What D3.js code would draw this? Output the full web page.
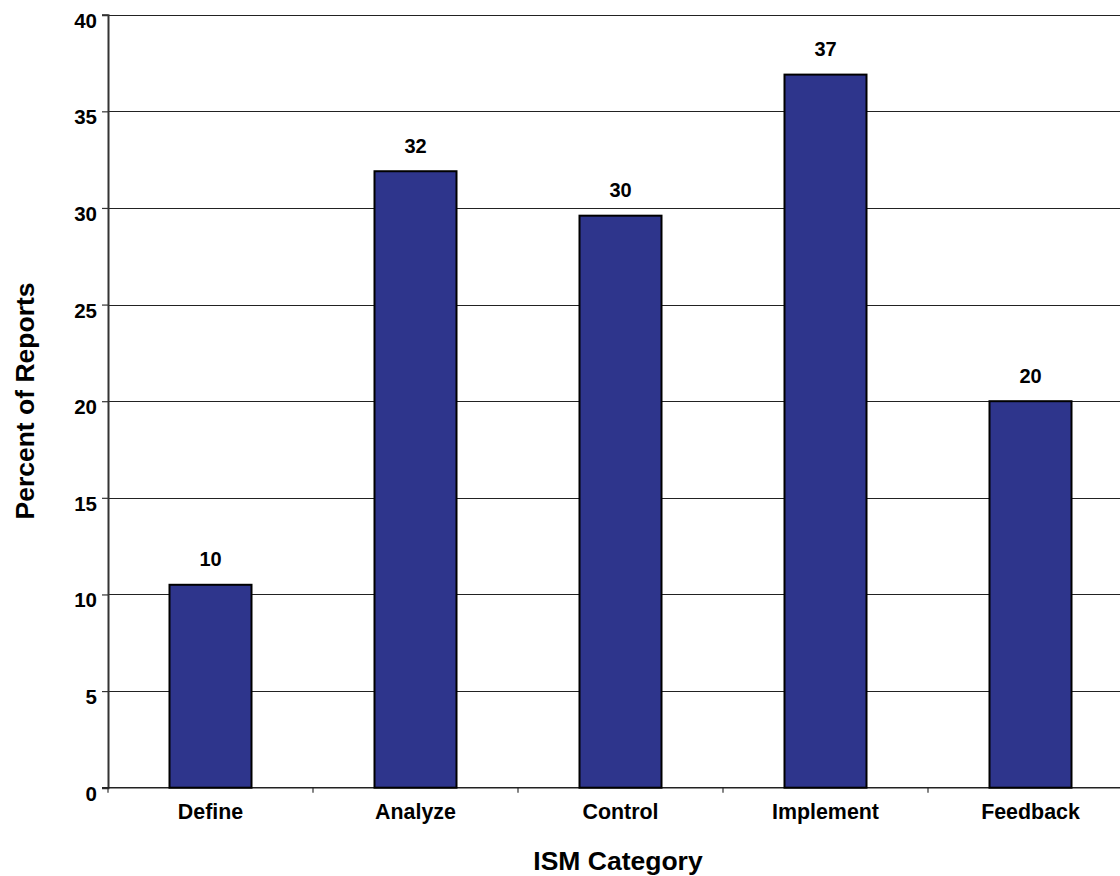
<!DOCTYPE html>
<html>
<head>
<meta charset="utf-8">
<script src="https://cdn.jsdelivr.net/npm/d3@7/dist/d3.min.js"></script>
<style>
  html, body { margin: 0; padding: 0; background: #fff; overflow: hidden; }
  svg { display: block; font-family: "Liberation Sans", Arial, sans-serif; font-weight: bold; }
</style>
</head>
<body>
<svg id="chart" width="1120" height="876"></svg>
<script>
const categories = ["Define", "Analyze", "Control", "Implement", "Feedback"];
const values = [10.5, 31.9, 29.6, 36.9, 20.0];
const valueLabels = ["10", "32", "30", "37", "20"];
const yTicks = [0, 5, 10, 15, 20, 25, 30, 35, 40];
const xTitle = "ISM Category";
const yTitle = "Percent of Reports";

const svg = d3.select("#chart");
const pLeft = 108, pRight = 1133, pTop = 14.7, pBottom = 787.7;

const x = d3.scaleBand().domain(categories).range([pLeft, pRight]).paddingInner(0).paddingOuter(0);
const y = d3.scaleLinear().domain([0, 40]).range([pBottom, pTop]);

// gridlines
svg.append("g").selectAll("line").data(yTicks.filter(d => d > 0)).join("line")
  .attr("x1", pLeft).attr("x2", pRight)
  .attr("y1", d => Math.round(y(d)) + 0.5).attr("y2", d => Math.round(y(d)) + 0.5)
  .attr("stroke", "#222").attr("stroke-width", 1.2);

// y axis
const yAxis = svg.append("g").attr("transform", `translate(${pLeft},0)`)
  .call(d3.axisLeft(y).tickValues(yTicks).tickSize(6).tickPadding(5));
yAxis.select(".domain").attr("stroke", "#333").attr("stroke-width", 2);
yAxis.selectAll(".tick line").attr("stroke", "#333").attr("stroke-width", 1.2);
yAxis.selectAll(".tick text")
  .attr("font-size", 20.5).attr("font-weight", "bold").attr("fill", "#000")
  .attr("font-family", "Liberation Sans, Arial, sans-serif")
  .attr("dy", null).attr("y", 12.5).attr("x", -11);

// x axis ticks at band boundaries
const bounds = categories.map(c => x(c)).concat([pRight]);
svg.append("g").selectAll("line").data(bounds).join("line")
  .attr("x1", d => d).attr("x2", d => d)
  .attr("y1", pBottom).attr("y2", pBottom + 5)
  .attr("stroke", "#333").attr("stroke-width", 1.2);
svg.append("line").attr("x1", pLeft - 6).attr("x2", pRight)
  .attr("y1", pBottom).attr("y2", pBottom)
  .attr("stroke", "#222").attr("stroke-width", 1.6);

// x labels
svg.append("g").selectAll("text").data(categories).join("text")
  .attr("x", d => x(d) + x.bandwidth() / 2).attr("y", 818.5)
  .attr("text-anchor", "middle").attr("font-size", 21.4).attr("fill", "#000")
  .text(d => d);

// bars
const bw = x.bandwidth() * 0.4;
svg.append("g").selectAll("rect").data(values).join("rect")
  .attr("x", (d, i) => x(categories[i]) + (x.bandwidth() - bw) / 2)
  .attr("y", d => y(d))
  .attr("width", bw)
  .attr("height", d => y(0) - y(d))
  .attr("fill", "#2e358c").attr("stroke", "#000").attr("stroke-width", 2);

// value labels
svg.append("g").selectAll("text").data(values).join("text")
  .attr("x", (d, i) => x(categories[i]) + x.bandwidth() / 2)
  .attr("y", d => y(d) - 18.5)
  .attr("text-anchor", "middle").attr("font-size", 20).attr("fill", "#000")
  .text((d, i) => valueLabels[i]);

// titles
svg.append("text").attr("x", 618).attr("y", 870)
  .attr("text-anchor", "middle").attr("font-size", 26.5).attr("fill", "#000")
  .text(xTitle);
svg.append("text").attr("transform", "translate(34,401) rotate(-90)")
  .attr("text-anchor", "middle").attr("font-size", 26.5).attr("fill", "#000")
  .text(yTitle);
</script>
</body>
</html>
